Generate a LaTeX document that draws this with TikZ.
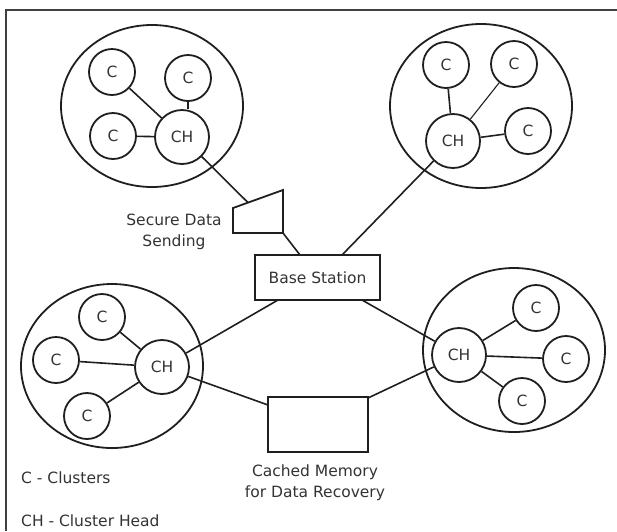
\documentclass[tikz,border=0pt]{standalone}
\usepackage{fontspec}
\setmainfont{DejaVu Sans}
\begin{document}
\begin{tikzpicture}[x=1pt,y=-1pt,
  ink/.style={draw=black!88,line width=1.8pt},
  txt/.style={text=black!80,font=\fontsize{15.5}{21}\selectfont,inner sep=0pt},
  cnode/.style={ink,circle,minimum size=46pt,inner sep=0pt,txt},
  chnode/.style={ink,circle,minimum size=54pt,inner sep=0pt,txt},
  link/.style={ink,line width=1.6pt},
  box/.style={ink,rectangle,inner sep=0pt}]
\useasboundingbox (0,0) rectangle (617,531);
% outer frame
\draw[draw=black!75,line width=2pt] (6,531) -- (6,10) -- (617,10);

% cluster zones
\draw[ink] (152,106) ellipse [x radius=91, y radius=81];
\draw[ink] (481,106) ellipse [x radius=91, y radius=82];
\draw[ink] (112,366) ellipse [x radius=91, y radius=82];
\draw[ink] (514,350) ellipse [x radius=91, y radius=82];

% top-left cluster
\node[chnode] (ch1) at (182,137) {CH};
\node[cnode] (c11) at (112,72) {C};
\node[cnode] (c12) at (188,78) {C};
\node[cnode] (c13) at (113,136) {C};
\draw[link] (c11) -- (ch1);
\draw[link] (c12.south) -- (c12.south |- ch1.north);
\draw[link] (c13) -- (ch1);

% top-right cluster
\node[chnode] (ch2) at (453,141) {CH};
\node[cnode] (c21) at (446,65) {C};
\node[cnode] (c22) at (514,64) {C};
\node[cnode] (c23) at (528,131) {C};
\draw[link] (c21) -- (ch2);
\draw[link,line width=1.1pt] (c22) -- (ch2);
\draw[link] (c23) -- (ch2);

% bottom-left cluster
\node[chnode] (ch3) at (162,367) {CH};
\node[cnode] (c31) at (102,317) {C};
\node[cnode] (c32) at (56,360) {C};
\node[cnode] (c33) at (87,416) {C};
\draw[link] (c31) -- (ch3);
\draw[link] (c32) -- (ch3);
\draw[link] (c33) -- (ch3);

% bottom-right cluster
\node[chnode] (ch4) at (459,355) {CH};
\node[cnode] (c41) at (536,308) {C};
\node[cnode] (c42) at (566,359) {C};
\node[cnode] (c43) at (522,401) {C};
\draw[link] (c41) -- (ch4);
\draw[link] (c42) -- (ch4);
\draw[link] (c43) -- (ch4);

% base station
\node[box,minimum width=125pt,minimum height=45pt,txt] (bs) at (317.5,277.5) {Base Station};

% secure data sending unit (trapezoid)
\coordinate (tzA) at (233,208);
\coordinate (tzB) at (283,190);
\coordinate (tzC) at (283,233);
\coordinate (tzD) at (233,233);
\coordinate (tzIn) at (248,202.6);
\draw[ink,line join=miter] (tzA) -- (tzB) -- (tzC) -- (tzD) -- cycle;
\node[txt,align=center] (sds) at (174,232) {Secure Data\\Sending};

% cached memory unit
\node[box,minimum width=100pt,minimum height=55pt] (cm) at (318,424.5) {};
\node[txt,align=center] (cml) at (315,483) {Cached Memory\\for Data Recovery};

% attachment points on the boxes
\coordinate (bsA) at (300,255);
\coordinate (bsB) at (342,255);
\coordinate (bsC) at (278,300);
\coordinate (bsD) at (362,300);
\coordinate (cmA) at (268,405);
\coordinate (cmB) at (368,398);

% links between heads and units
\draw[link] (ch1) -- (tzIn);
\draw[link] (tzC) -- (bsA);
\draw[link] (ch2) -- (bsB);
\draw[link] (ch3) -- (bsC);
\draw[link] (ch4) -- (bsD);
\draw[link] (ch3) -- (cmA);
\draw[link] (ch4) -- (cmB);

% legend
\node[txt,anchor=west] (lg1) at (21,478) {C - Clusters};
\node[txt,anchor=west] (lg2) at (21,521) {CH - Cluster Head};
\end{tikzpicture}
\end{document}
